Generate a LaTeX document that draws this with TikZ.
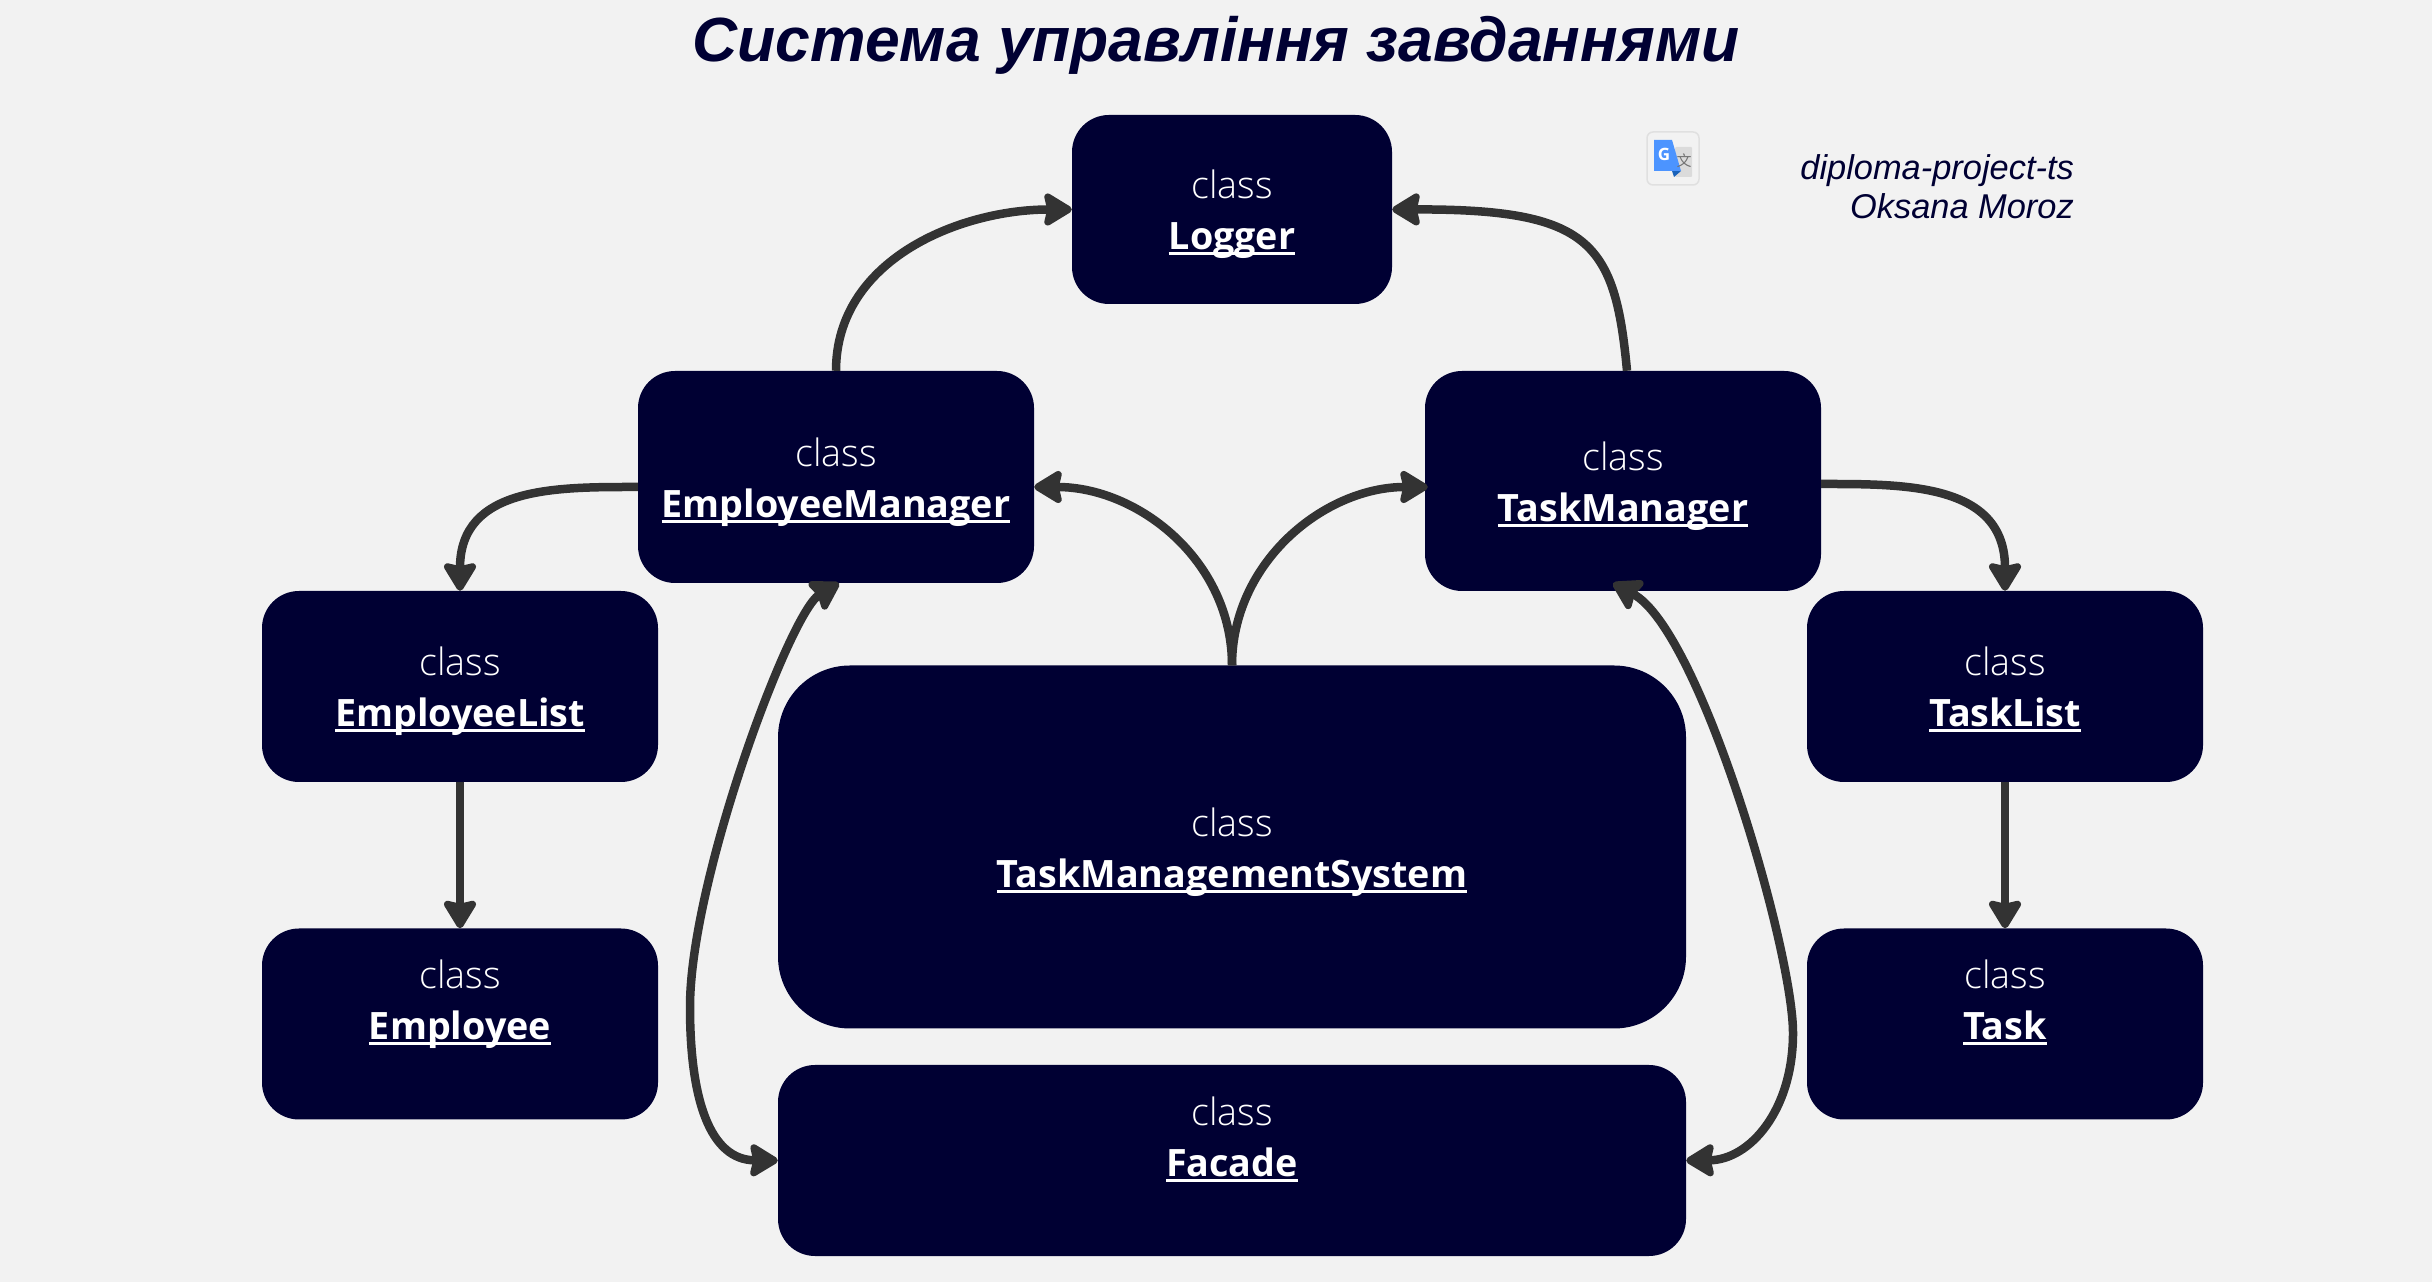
\documentclass[tikz,border=0pt]{standalone}
\usepackage{fontspec}
\setmainfont{Open Sans}
\newfontfamily\lightfont{Open Sans Light}
\newfontfamily\titlefont{Liberation Sans}
\newfontfamily\cjkfont{Noto Sans CJK SC}
\usetikzlibrary{arrows.meta}
\definecolor{navybox}{HTML}{000033}
\definecolor{paper}{HTML}{F2F2F2}
\definecolor{linkgray}{HTML}{333333}
\newcommand{\ulname}[1]{\setbox0\hbox{\bfseries #1}\leavevmode\rlap{\rule[-5.5pt]{\wd0}{3pt}}\smash{\box0}}
\newcommand{\clstext}[1]{\rule{0pt}{40pt}{\lightfont class}\\\ulname{#1}\rule[-10pt]{0pt}{1pt}}
\newcommand{\clstextup}[1]{\rule{0pt}{40pt}{\lightfont class}\\\ulname{#1}\rule[-60pt]{0pt}{1pt}}
\tikzset{
  classbox/.style={draw=none, fill=navybox, text=white, rounded corners=37pt, inner sep=0pt,
    align=center, font=\fontsize{37.7}{51}\selectfont, minimum width=396pt, minimum height=191pt},
  link/.style={draw=linkgray, line width=8.5pt,
    -{Stealth[length=32pt,width=38pt,inset=4pt,round]}},
  biglink/.style={link, {Stealth[length=32pt,width=38pt,inset=4pt,round]}-{Stealth[length=32pt,width=38pt,inset=4pt,round]}}
}

\begin{document}
\begin{tikzpicture}[x=1pt,y=1pt]
  \fill[paper] (0,0) rectangle (2432,1282);
  \useasboundingbox (0,0) rectangle (2432,1282);

  % title and author
  \node (title) at (1216,1237) [text=navybox, font=\titlefont\fontsize{62.4}{70}\selectfont\bfseries\itshape, inner sep=0pt] {Система управління завданнями};
  \node (author) at (2074,1095.5) [anchor=east, align=right, text=navybox, font=\titlefont\fontsize{34.4}{39}\selectfont\itshape, inner sep=0pt] {diploma-project-ts\\Oksana Moroz};

  % translate icon
  \draw[draw=black!12, line width=1.5pt, fill=paper, rounded corners=6pt] (1647,1097) rectangle (1699,1150);
  \fill[black!14, rounded corners=1pt] (1675,1105) rectangle (1692,1135);
  \fill[blue!55!cyan!70!black!90] (1672,1111) -- (1681,1111) -- (1674,1105) -- cycle;
  \fill[blue!60!cyan!70] (1654,1111) -- (1654,1142) -- (1672,1142) -- (1681,1111) -- cycle;
  \node (iconG) at (1664,1128) [text=white, font=\fontsize{17}{17}\selectfont\bfseries, inner sep=0pt] {G};
  \node (iconZi) at (1684,1121) [text=black!55, font=\cjkfont\fontsize{15}{15}\selectfont, inner sep=0pt] {文};

  % classes
  \node (logger) at (1232,1072.5) [classbox, minimum width=320pt, minimum height=189pt] {\clstext{Logger}};
  \node (empmgr) at (836,805) [classbox, minimum height=212pt] {\clstext{EmployeeManager}};
  \node (taskmgr) at (1623,801) [classbox, minimum height=220pt] {\clstext{TaskManager}};
  \node (emplist) at (460,595.5) [classbox] {\clstext{EmployeeList}};
  \node (employee) at (460,258) [classbox] {\clstextup{Employee}};
  \node (tasklist) at (2005,595.5) [classbox] {\clstext{TaskList}};
  \node (task) at (2005,258) [classbox] {\clstextup{Task}};
  \node (tms) at (1232,435) [classbox, rounded corners=72pt, minimum width=908pt, minimum height=363pt] {\clstext{TaskManagementSystem}};
  \node (facade) at (1232,121.5) [classbox, minimum width=908pt] {\clstextup{Facade}};

  % links
  \draw[link] (empmgr.north) to[out=90,in=180] (logger.west);
  \draw[link] ([xshift=4pt]taskmgr.north) .. controls (1615,1040) and (1590,1073) .. (logger.east);
  \draw[link] ([yshift=-10pt]empmgr.west) to[out=180,in=90,in looseness=1.3] (emplist.north);
  \draw[link] ([yshift=-3pt]taskmgr.east) to[out=0,in=90,in looseness=1.3] (tasklist.north);
  \draw[link] (emplist.south) to (employee.north);
  \draw[link] (tasklist.south) to (task.north);
  \draw[link] (tms.north) to[out=90,in=0] ([yshift=-10pt]empmgr.east);
  \draw[link] (tms.north) to[out=90,in=180] ([shift={(3pt,-6pt)}]taskmgr.west);

  \coordinate (leftbend) at (690,275);
  \coordinate (rightbend) at (1793,249);
  \draw[biglink] ([xshift=3pt]empmgr.south) .. controls (790,670) and (690,402) .. (leftbend)
    .. controls (690,182) and (710,122) .. (facade.west);
  \draw[biglink] ([shift={(-10pt,8pt)}]taskmgr.south) .. controls (1700,652) and (1793,332) .. (rightbend)
    .. controls (1793,172) and (1750,122) .. (facade.east);
\end{tikzpicture}
\end{document}
